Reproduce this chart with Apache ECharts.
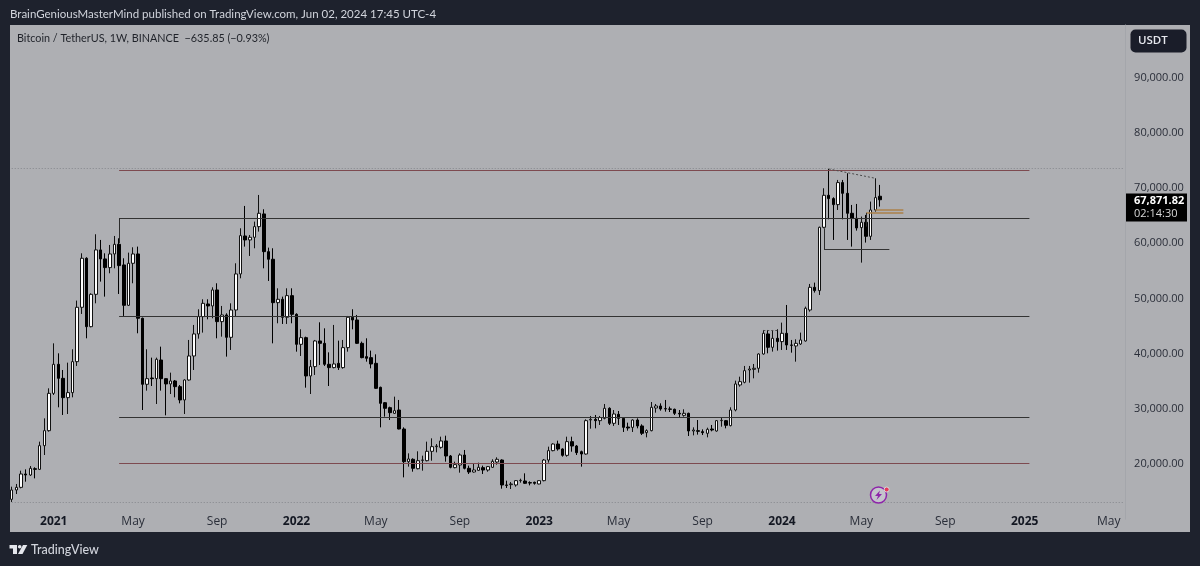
<!DOCTYPE html>
<html>
<head>
<meta charset="utf-8">
<style>html,body{margin:0;padding:0;background:#1e222d}#main{width:1200px;height:566px}</style>
<script src="https://cdn.jsdelivr.net/npm/echarts@6/dist/echarts.min.js"></script>
</head>
<body>
<div id="main"></div>
<script>
// weekly BTCUSDT
var firstWeek = '2020-11-02', weekSlots = 239;
var opens = [
13600,15290,15770,18190,18010,19150,19030,23320,26040,32800,
38060,35520,32020,32930,38540,48390,57270,44880,50740,58780,
57150,55580,58050,59800,56060,48750,56360,58050,46400,34440,
35580,35460,38840,35460,34500,35040,34010,31600,35220,39570,
43560,46700,48990,48630,51530,45790,47000,42950,47900,54430,
61310,60590,61070,63000,65300,58470,57090,49230,49840,46580,
50500,47120,41680,42890,35950,37640,42290,41860,38060,37460,
38240,37460,41080,46580,46090,41860,39450,39270,38240,33890,
31110,30210,29180,29780,26340,20420,20850,19150,20660,20600,
22300,23140,23020,24170,21450,19340,19820,21630,19220,18550,
18850,19340,18910,19400,20360,20720,16200,16260,16200,16980,
16920,16620,16680,16380,16980,20720,22420,23620,22720,21570,
24050,23260,22230,21810,27970,28090,27850,28270,30090,27370,
29000,28270,26700,26640,27970,26890,25680,26040,30150,30510,
30030,29970,29910,29180,28820,29180,25980,26040,25860,25560,
26340,25980,27850,27850,26950,29780,34320,34800,37030,37150,
37340,39930,43560,41140,42770,42170,43680,41560,41380,41740,
42290,47900,52010,51410,62880,68680,68080,66990,70980,69040,
65420,64510,62820,63790,61250,66020,68507.67];
var closes = [
15290,15770,18190,18010,19220,19030,23320,26040,32800,38060,
35520,32020,32930,38540,48390,57270,44880,50740,58780,57150,
55580,58050,59800,55940,48750,56360,58050,46400,34440,35460,
35460,38970,35460,34500,35040,34010,31600,35220,39570,43560,
46700,49110,48630,51530,45790,47000,42950,47900,54430,61370,
60590,61070,63000,65420,58470,57090,49230,49840,46580,50500,
47120,41680,42890,35950,37640,42290,41860,38060,37460,38120,
37460,41080,46580,46090,41860,39270,39150,38120,33710,30990,
30090,29300,29660,26340,20420,20910,19220,20600,20720,22300,
23140,23260,24170,21450,19400,19880,21630,19220,18550,18910,
19400,18910,19520,20480,20850,16200,16130,16380,16980,17040,
16500,16560,16500,16980,20720,22420,23620,22720,21570,24050,
23260,22050,21810,27850,28090,27850,28400,30090,27370,29060,
28270,26640,26520,27970,26890,25560,26040,30270,30510,29970,
29970,29910,29180,29060,29180,25980,26160,25920,25680,26280,
26160,27850,27910,27010,29780,34500,34920,36910,37210,37340,
39930,43680,41140,42770,42170,43680,41560,41500,41860,42470,
48210,52010,51410,62880,68680,68080,66990,70980,69040,65420,
64510,62760,63790,61250,66020,68260,67871.82];
var highs = [
15890,16380,18790,19030,19640,19400,24050,28270,33710,41860,
40050,37030,38360,40780,49600,58170,57450,50920,61620,60590,
58170,59680,61310,60890,57270,58290,59260,59380,46520,40780,
39270,39270,41260,35520,36550,35220,34310,35340,42470,45190,
48030,49840,49840,52010,52740,48630,47300,49110,56360,62700,
66750,61490,63910,68740,66150,59200,59080,51830,50320,51830,
51830,47300,44400,43070,38850,42470,45670,44580,40230,45190,
42350,42470,46820,48030,47000,42170,42770,40540,39870,34010,
31230,30390,32200,31600,26640,21930,21030,22300,21510,24050,
24650,23620,24950,25130,21630,20420,21930,22540,19700,20120,
20240,19700,19640,20850,21210,20850,16980,16740,17100,17340,
18310,16860,16800,17040,20910,23140,23750,24230,22840,24950,
24950,23440,22420,28090,28700,28880,28700,30870,30270,29780,
29600,28460,27490,28090,28270,27190,26280,31230,30870,30990,
31600,30390,30030,29780,29910,29300,26640,27970,26280,26580,
27070,27970,28460,27970,30270,35100,35820,37760,37760,38120,
40050,44280,44280,44280,44400,45610,48810,42470,42590,43800,
48510,52620,52860,63000,69950,73450,68320,71460,71460,72670,
66930,67110,64820,65120,67540,71760,70560];
var lows = [
13120,14560,15590,16800,17830,17400,18910,21630,25860,32500,
30270,28880,29060,32080,37760,47180,42770,44760,49110,53040,
50320,54550,55450,50800,46820,48630,52740,43680,29780,33290,
34130,30870,33290,28820,32680,32080,30990,29060,35100,37030,
42710,43800,46210,46400,42770,43070,39450,40660,46700,53640,
59380,57690,59080,62100,55450,53160,41860,45490,45370,45370,
45490,40350,39570,33830,32680,36130,37940,37760,34130,37330,
37030,37270,40350,44400,41740,39150,38540,37330,33590,26640,
28580,27970,29060,26280,17580,19520,18610,19030,18790,20480,
20600,22110,22780,20420,19220,19220,18430,19030,18190,18430,
18730,18190,18610,19280,19880,15530,15650,15470,15890,16620,
16380,16130,16260,16320,16860,20240,22300,22420,21330,21330,
22230,21630,19520,21690,26400,26460,27070,28090,27070,26890,
27070,25800,26040,25800,26460,25250,24830,25920,29300,29660,
29480,29420,28880,28460,28580,25070,25190,25320,25250,24830,
25920,25860,26760,26460,26820,29540,34010,34620,34740,35520,
36550,39810,40050,40360,40540,40660,40660,40170,38540,41560,
42170,47600,51050,50620,62700,64330,60590,66020,64330,60590,
59380,62280,56480,60110,60590,65720,66630];

// x axis labels, keyed by the week they sit on
var tickLabels = {
  '2021-01-04':'2021','2021-05-03':'May','2021-09-06':'Sep',
  '2022-01-03':'2022','2022-05-02':'May','2022-09-05':'Sep',
  '2023-01-02':'2023','2023-05-01':'May','2023-09-04':'Sep',
  '2024-01-01':'2024','2024-04-29':'May','2024-09-02':'Sep',
  '2024-12-30':'2025','2025-05-05':'May'
};

// drawn levels: [price, week slot from, week slot to]
var redLevels = [[73170,23,218],[20090,23,218]];
var blackLevels = [[64560,23,218],[46680,23,218],[28520,23,218],[58900,174,188]];
var orangeLevels = [[66130,185,191],[65480,183,191]];
var dottedLevels = [[73570,0,238],[13120,0,238]];
var trendFrom = [175, 73450], trendTo = [185, 71760];

var weeks = [];
for (var i = 0; i < weekSlots; i++) {
  var d = new Date(firstWeek + 'T00:00:00Z');
  d.setUTCDate(d.getUTCDate() + i * 7);
  weeks.push(d.toISOString().slice(0, 10));
}
var candles = opens.map(function (o, i) { return [o, closes[i], lows[i], highs[i]]; });

function segs(list, color, width, type) {
  return list.map(function (l) {
    return [
      {coord: [l[1], l[0]], lineStyle: {color: color, width: width, type: type}},
      {coord: [l[2], l[0]]}
    ];
  });
}
// short vertical stubs and the dotted top trend line
var extraLines = [
  [{coord: [23, 64560], lineStyle: {color: '#2b2b2b', width: 1, type: 'solid'}}, {coord: [23, 60000]}],
  [{coord: [174, 62700], lineStyle: {color: '#2b2b2b', width: 1, type: 'solid'}}, {coord: [174, 58900]}],
  [{coord: [183, 65480], lineStyle: {color: '#2b2b2b', width: 1, type: 'solid'}}, {coord: [183, 63000]}],
  [{coord: trendFrom, lineStyle: {color: '#4a4a4a', width: 1, type: [2, 2]}}, {coord: trendTo}],
  [{coord: [161, 44280], lineStyle: {color: '#4a4a4a', width: 1, type: [2, 2]}}, {coord: [164, 44280]}]
];

var font = '"Open Sans", "Noto Sans", sans-serif';
var titleFont = 'Lato, "Open Sans", sans-serif';
var chart = echarts.init(document.getElementById('main'));
var option = {
  animation: false,
  backgroundColor: '#1e222d',
  grid: {left: 9.4, right: 74.9, top: 25, bottom: 46.8},
  xAxis: {
    type: 'category',
    data: weeks,
    boundaryGap: true,
    axisLine: {show: false},
    axisTick: {show: false},
    splitLine: {show: false},
    axisLabel: {
      margin: -4,
      verticalAlign: 'top',
      color: '#2a2e39',
      fontFamily: font,
      fontSize: 12,
      hideOverlap: false,
      interval: function (idx, val) { return tickLabels[val] != null; },
      formatter: function (val) {
        var t = tickLabels[val];
        if (t == null) return '';
        return t.length == 4 ? '{y|' + t + '}' : t;
      },
      rich: {y: {fontWeight: 'bold', fontSize: 12, fontFamily: font, color: '#131722'}}
    }
  },
  yAxis: {
    type: 'value',
    position: 'right',
    min: 10000,
    max: 99529,
    interval: 10000,
    splitLine: {show: false},
    axisTick: {show: false},
    axisLine: {show: true, lineStyle: {color: '#a4a6ab', width: 1}},
    axisLabel: {
      margin: 9,
      color: '#2a2e39',
      fontFamily: font,
      fontSize: 11,
      formatter: function (v) {
        // the axis ends are not labelled in the picture
        if (v == 10000 || v % 10000 != 0) return '';
        return v.toLocaleString('en-US', {minimumFractionDigits: 2});
      }
    }
  },
  series: [{
    type: 'candlestick',
    data: candles,
    barWidth: 3,
    clip: false,
    itemStyle: {color: '#ffffff', color0: '#000000', borderColor: '#111111', borderColor0: '#000000', borderWidth: 1},
    markLine: {
      silent: true,
      symbol: 'none',
      label: {show: false},
      data: []
        .concat(segs(dottedLevels, '#85878c', 1, [1, 2]))
        .concat(segs(redLevels, '#7d4a50', 1.2, 'solid'))
        .concat(segs(blackLevels, '#333333', 1.2, 'solid'))
        .concat(segs(orangeLevels, '#ab8048', 1.5, 'solid'))
        .concat(extraLines)
    }
  }],
  graphic: {
    elements: [
      {type: 'rect', z: -10, silent: true, shape: {x: 10, y: 25, width: 1180, height: 507}, style: {fill: '#aeafb3'}},
      {type: 'text', z: 50, x: 10, y: 14, style: {text: 'BrainGeniousMasterMind published on TradingView.com, Jun 02, 2024 17:45 UTC-4', fill: '#d1d4dc', font: '11.5px ' + titleFont, textVerticalAlign: 'middle'}},
      {type: 'text', z: 50, x: 17, y: 39, style: {text: 'Bitcoin / TetherUS, 1W, BINANCE  \u2212635.85 (\u22120.93%)', fill: '#1f2229', font: '10.8px ' + titleFont, textVerticalAlign: 'middle'}},
      {type: 'rect', z: 50, shape: {x: 1130.5, y: 29.5, width: 56, height: 23, r: 5}, style: {fill: '#1a1d29'}},
      {type: 'text', z: 51, x: 1138, y: 41, style: {text: 'USDT', fill: '#e6e8ee', font: '600 11.5px ' + font, textVerticalAlign: 'middle'}},
      {type: 'rect', z: 50, shape: {x: 1126, y: 193.5, width: 61, height: 28}, style: {fill: '#000000'}},
      {type: 'text', z: 51, x: 1134, y: 200.5, style: {text: '67,871.82', fill: '#ffffff', font: 'bold 11px ' + font, textVerticalAlign: 'middle'}},
      {type: 'text', z: 51, x: 1134, y: 214, style: {text: '02:14:30', fill: '#d8d8d8', font: '11px ' + font, textVerticalAlign: 'middle'}},
      // logo
      {type: 'polygon', z: 50, shape: {points: [[9.5, 545], [17, 545], [17, 554], [13, 554], [13, 548.5], [9.5, 548.5]]}, style: {fill: '#e4e6ec'}},
      {type: 'circle', z: 50, shape: {cx: 19.7, cy: 546.8, r: 1.8}, style: {fill: '#e4e6ec'}},
      {type: 'polygon', z: 50, shape: {points: [[23, 545], [27.3, 545], [22.5, 554], [18, 554]]}, style: {fill: '#e4e6ec'}},
      {type: 'text', z: 50, x: 31, y: 550, style: {text: 'TradingView', fill: '#d1d4dc', font: '500 12.5px ' + titleFont, textVerticalAlign: 'middle'}},
      // lightning badge
      {type: 'circle', z: 50, shape: {cx: 878.5, cy: 495, r: 8}, style: {fill: '#c4c4cc', stroke: '#8e24aa', lineWidth: 1.5}},
      {type: 'polygon', z: 51, shape: {points: [[880, 490.5], [875, 496], [878, 496], [876.5, 500], [882, 494], [879, 494]]}, style: {fill: '#8e24aa'}},
      {type: 'circle', z: 52, shape: {cx: 886.7, cy: 489.5, r: 2.5}, style: {fill: '#e53958', stroke: '#d8d8de', lineWidth: 1}}
    ]
  }
};
chart.setOption(option);
</script>
</body>
</html>
